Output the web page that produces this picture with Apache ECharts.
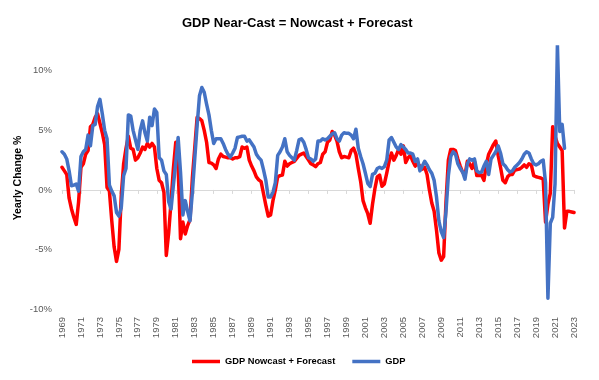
<!DOCTYPE html>
<html>
<head>
<meta charset="utf-8">
<script src="https://cdn.jsdelivr.net/npm/echarts@6/dist/echarts.min.js"></script>
<style>html,body{margin:0;padding:0;background:#fff}#c{width:599px;height:380px}</style>
</head>
<body>
<div id="c"></div>
<script>
// Quarterly categories 1969Q1 .. 2023Q1
var firstYear = 1969, lastYear = 2023;
var quarters = [];
for (var y = firstYear; y <= lastYear; y++) {
  for (var q = 1; q <= 4; q++) {
    if (y === lastYear && q > 1) break;
    quarters.push(y + 'Q' + q);
  }
}
var yTicks = [-10, -5, 0, 5, 10];

// GDP, yearly change %
var gdp = [
  3.2, 3.0, 2.6, 1.6, 0.35, 0.4, 0.5, -0.1, 2.8, 3.2,
  3.4, 4.6, 3.7, 5.4, 5.5, 7.0, 7.6, 6.4, 5.0, 4.3,
  0.4, -0.1, -0.5, -1.9, -2.2, -1.5, 1.2, 1.8, 6.3, 6.2,
  5.0, 4.2, 3.4, 5.0, 5.8, 4.8, 4.1, 6.1, 5.4, 6.8,
  6.5, 2.7, 2.5, 1.6, 1.3, -1.0, -1.6, 0.4, 2.3, 4.4,
  1.5, -2.1, -0.9, -1.8, -2.6, -0.2, 2.6, 5.4, 7.9, 8.6,
  8.2, 7.2, 6.3, 5.0, 3.9, 4.3, 4.3, 4.3, 3.9, 3.4,
  3.0, 2.75, 3.1, 3.5, 4.4, 4.45, 4.5, 4.5, 4.1, 4.2,
  3.9, 3.6, 3.0, 2.7, 2.5, 1.7, 0.8, -0.6, -0.6, -0.2,
  0.6, 2.9, 3.2, 3.6, 4.3, 3.2, 2.9, 2.7, 2.5, 3.3,
  4.2, 4.3, 4.0, 3.4, 2.7, 2.6, 2.4, 2.6, 4.1, 4.1,
  4.3, 4.2, 4.3, 4.5, 4.7, 4.8, 4.3, 4.1, 4.6, 4.8,
  4.75, 4.75, 4.6, 4.3, 5.1, 3.5, 2.8, 2.2, 1.4, 0.55,
  0.28, 1.3, 1.4, 1.8, 1.9, 1.8, 1.95, 2.5, 4.2, 4.4,
  4.0, 3.6, 3.4, 3.8, 3.6, 3.4, 3.1, 3.1, 3.0, 2.4,
  2.6, 1.6, 2.0, 2.4, 2.1, 1.7, 1.4, 0.8, -0.6, -2.6,
  -3.5, -4.0, -1.8, 1.2, 2.8, 3.2, 3.0, 2.2, 1.8, 1.5,
  0.9, 2.2, 2.6, 2.5, 2.6, 1.6, 1.45, 1.5, 2.0, 2.4,
  1.3, 2.6, 2.9, 3.2, 3.7, 3.1, 2.2, 2.0, 1.7, 1.5,
  1.6, 1.9, 2.1, 2.3, 2.6, 3.0, 3.2, 3.1, 2.6, 2.2,
  2.1, 2.2, 2.4, 2.5, 0.6, -9.1, -2.8, -2.3, 0.5, 12.2,
  4.9, 5.5, 3.5
];

// GDP Nowcast + Forecast, yearly change %
var nearCast = [
  1.9, 1.6, 1.3, -0.7, -1.6, -2.3, -2.9, -1.0, 1.9, 2.2,
  3.0, 3.3, 5.3, 5.5, 6.1, 6.4, 5.6, 4.8, 3.8, 0.2,
  -0.1, -2.6, -4.8, -6.0, -5.0, -0.5, 2.2, 3.5, 4.5, 3.5,
  3.4, 2.5, 2.7, 3.1, 3.6, 3.4, 3.9, 3.6, 3.9, 3.6,
  1.8, 0.8, 0.6, -0.2, -5.5, -3.6, -1.0, 1.8, 4.0, 2.0,
  -4.1, -2.7, -3.7, -3.0, -2.5, 1.0, 3.5, 6.1, 6.0, 5.8,
  5.0, 4.0, 2.3, 2.25, 2.1, 1.8, 2.6, 3.0, 2.8, 2.75,
  2.7, 2.7, 2.6, 2.7, 2.7, 2.8, 3.6, 3.5, 3.6, 2.5,
  2.0, 1.6, 1.1, 0.85, 0.7, -0.3, -1.3, -2.2, -2.1, -0.9,
  0.0, 1.1, 1.2, 1.25, 2.4, 2.0, 2.2, 2.3, 2.4, 2.65,
  2.9, 3.0, 3.1, 2.8, 2.5, 2.2, 2.1, 1.95, 2.2, 2.3,
  3.0, 3.2, 4.0, 4.2, 4.9, 4.6, 4.1, 3.2, 2.7, 2.8,
  2.75, 2.7, 3.3, 3.5, 3.0, 1.8, 0.7, -0.9, -1.5, -2.0,
  -2.8, -1.2, 0.1, 1.1, 1.25, 0.3, 0.5, 1.4, 2.4, 3.1,
  2.5, 2.9, 3.4, 3.0, 3.7, 2.3, 2.7, 2.9, 2.4, 2.0,
  2.2, 2.0, 1.75, 1.9, 1.3, 0.0, -1.1, -1.8, -3.4, -5.3,
  -5.9, -5.6, -1.0, 2.5, 3.4, 3.4, 3.3, 2.6, 2.0, 1.5,
  1.2, 2.4, 2.2, 1.8, 2.4, 1.2, 1.2, 1.25, 0.8, 2.1,
  3.0, 3.4, 3.8, 4.1, 2.9, 1.9, 0.8, 0.6, 1.1, 1.3,
  1.3, 1.65, 1.7, 1.75, 1.9, 2.1, 1.9, 2.2, 2.1, 1.2,
  1.1, 1.05, 1.0, 0.9, -2.7, -1.2, -0.3, 5.3, 4.5, 3.9,
  3.6, 3.3, -3.2, -1.8, -1.8, -1.85, -1.9
];

var chart = echarts.init(document.getElementById('c'), null, {renderer: 'canvas'});
var FONT = 'Liberation Sans';
chart.setOption({
  animation: false,
  backgroundColor: '#ffffff',
  title: {
    text: 'GDP Near-Cast = Nowcast + Forecast',
    left: 177, top: 12,
    textStyle: {fontFamily: FONT, fontSize: 13, fontWeight: 'bold', color: '#000'}
  },
  legend: {
    data: ['GDP Nowcast + Forecast', 'GDP'],
    left: 187, top: 352,
    icon: 'rect', itemWidth: 28, itemHeight: 3.5, itemGap: 17,
    textStyle: {fontFamily: FONT, fontSize: 9.3, fontWeight: 'bold', color: '#000'}
  },
  grid: {left: 62, right: 25, top: 47, bottom: 71, containLabel: false},
  xAxis: [{
    type: 'category', data: quarters, boundaryGap: false,
    axisLine: {show: true, onZero: true, lineStyle: {color: '#d9d9d9', width: 1}},
    axisTick: {show: true, interval: 7, length: 4, lineStyle: {color: '#d9d9d9'}},
    axisLabel: {show: false}, splitLine: {show: false}
  }, {
    type: 'category', data: quarters, boundaryGap: false, position: 'bottom',
    axisLine: {show: false, onZero: false}, axisTick: {show: false}, splitLine: {show: false},
    axisLabel: {
      interval: 7, rotate: 90, margin: 8, color: '#595959',
      fontFamily: FONT, fontSize: 9.5,
      formatter: function (v) { return v.slice(0, 4); }
    }
  }],
  yAxis: {
    type: 'value', min: -10, max: 12, interval: 5,
    name: 'Yearly Change %', nameLocation: 'middle', nameGap: 38, nameRotate: 90,
    nameMoveOverlap: false,
    nameTextStyle: {fontFamily: FONT, fontSize: 10.5, fontWeight: 'bold', color: '#000'},
    axisLine: {show: false}, axisTick: {show: false}, splitLine: {show: false},
    axisLabel: {
      margin: 10, color: '#595959', fontFamily: FONT, fontSize: 9.5,
      formatter: function (v) { return yTicks.indexOf(v) >= 0 ? v + '%' : ''; }
    }
  },
  series: [{
    name: 'GDP Nowcast + Forecast', type: 'line', data: nearCast,
    xAxisIndex: 0, showSymbol: false, symbol: 'none', clip: true,
    lineStyle: {color: '#ff0000', width: 3.5, join: 'round', cap: 'round'},
    itemStyle: {color: '#ff0000'}
  }, {
    name: 'GDP', type: 'line', data: gdp,
    xAxisIndex: 0, showSymbol: false, symbol: 'none', clip: true,
    lineStyle: {color: '#4472c4', width: 3.5, join: 'round', cap: 'round'},
    itemStyle: {color: '#4472c4'}
  }]
});
</script>
</body>
</html>
